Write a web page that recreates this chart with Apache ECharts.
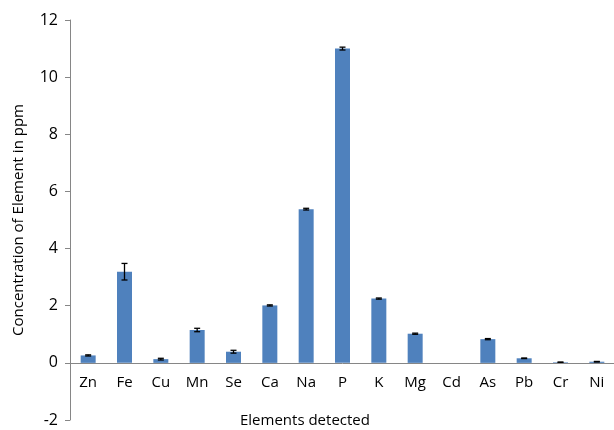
<!DOCTYPE html>
<html><head><meta charset="utf-8">
<script src="https://cdn.jsdelivr.net/npm/echarts@6/dist/echarts.min.js"></script>
<style>html,body{margin:0;padding:0;background:#fff}#c{width:614px;height:430px}</style>
</head><body><div id="c"></div>
<script>
var categories = ['Zn','Fe','Cu','Mn','Se','Ca','Na','P','K','Mg','Cd','As','Pb','Cr','Ni'];
var values = [0.26, 3.19, 0.13, 1.15, 0.39, 2.01, 5.38, 11.0, 2.25, 1.02, 0.0, 0.83, 0.16, 0.02, 0.04];
var errors = [0.02, 0.29, 0.03, 0.06, 0.05, 0.02, 0.03, 0.05, 0.02, 0.02, 0.0, 0.02, 0.01, 0.01, 0.01];
var yTicks = [-2, 0, 2, 4, 6, 8, 10, 12];

var font = '"Open Sans", "Liberation Sans", sans-serif';
var chart = echarts.init(document.getElementById('c'));
var errData = values.map(function(v, i){ return [i, v - errors[i], v + errors[i]]; });
chart.setOption({
  animation: false,
  grid: {left: 70, right: -1, top: 20, bottom: 10, containLabel: false, outerBoundsMode: 'none'},
  xAxis: {
    type: 'category', data: categories, position: 'bottom',
    axisLine: {show: false, onZero: false},
    axisTick: {show: false},
    axisLabel: {color: '#000', fontSize: 15, fontFamily: font, margin: 12}
  },
  yAxis: {
    type: 'value', min: yTicks[0], max: yTicks[yTicks.length-1], interval: 2,
    name: 'Concentration of Element in ppm', nameLocation: 'middle', nameGap: 44,
    nameTextStyle: {color: '#000', fontSize: 15, fontFamily: font},
    axisLine: {show: true, onZero: false, lineStyle: {color: '#868686'}},
    axisTick: {show: true, length: 5, lineStyle: {color: '#868686'}},
    splitLine: {show: false},
    axisLabel: {color: '#000', fontSize: 16, fontFamily: font, margin: 12}
  },
  series: [{
    type: 'bar', data: values, barWidth: 15, z: 2,
    itemStyle: {color: '#4F81BD'}
  }, {
    type: 'custom', data: errData,
    renderItem: function(params, api){
      var x = api.value(0);
      var lo = api.coord([x, api.value(1)]);
      var hi = api.coord([x, api.value(2)]);
      if (api.value(2) - api.value(1) <= 0) return null;
      var hw = 3;
      var st = {stroke: '#000', lineWidth: 1.3};
      return {type: 'group', children: [
        {type: 'line', shape: {x1: hi[0], y1: hi[1], x2: lo[0], y2: lo[1]}, style: st},
        {type: 'line', shape: {x1: hi[0]-hw, y1: hi[1], x2: hi[0]+hw, y2: hi[1]}, style: st},
        {type: 'line', shape: {x1: lo[0]-hw, y1: lo[1], x2: lo[0]+hw, y2: lo[1]}, style: st}
      ]};
    },
    z: 10
  }]
});
var y0 = chart.convertToPixel({yAxisIndex: 0}, 0);
var yMin = chart.convertToPixel({yAxisIndex: 0}, yTicks[0]);
var xL = chart.convertToPixel({xAxisIndex: 0}, 0) - (chart.convertToPixel({xAxisIndex: 0}, 1) - chart.convertToPixel({xAxisIndex: 0}, 0)) / 2;
var xR = chart.convertToPixel({xAxisIndex: 0}, categories.length - 1) + (chart.convertToPixel({xAxisIndex: 0}, 1) - chart.convertToPixel({xAxisIndex: 0}, 0)) / 2;
var yl = Math.round(y0) + 0.5;
chart.setOption({
  xAxis: {offset: -(yMin - y0)},
  graphic: [{
    type: 'line', z: 100,
    shape: {x1: xL, y1: yl, x2: xR, y2: yl},
    style: {stroke: '#868686', lineWidth: 1}
  }, {
    type: 'text', left: 240, top: 413,
    style: {text: 'Elements detected', fill: '#000', font: '15px ' + font}
  }]
});
</script></body></html>
